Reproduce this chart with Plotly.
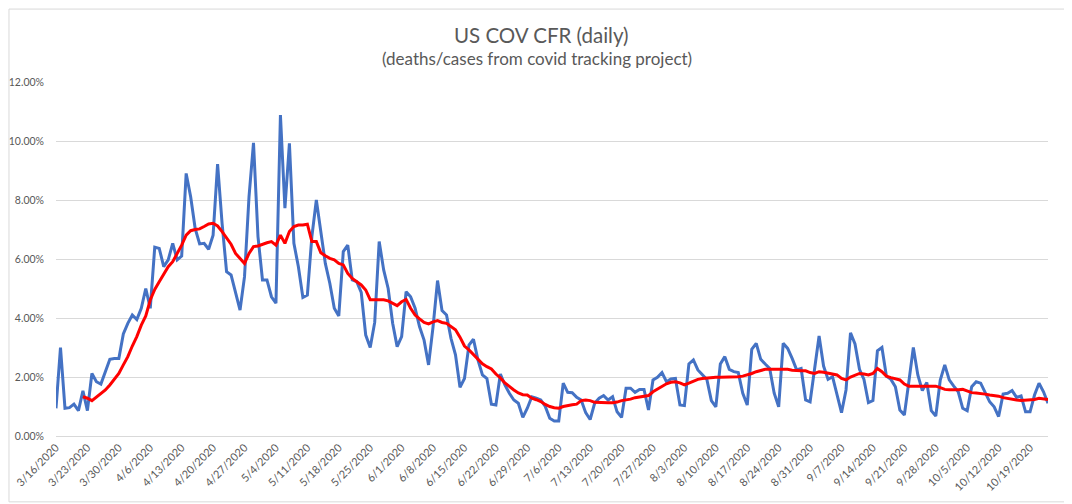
import plotly.graph_objects as go
import pandas as pd

start_date = "2020-03-16"
cfr_daily = [
    0.94, 3.0, 0.94, 0.96, 1.08, 0.86, 1.53, 0.86, 2.12, 1.84,
    1.76, 2.18, 2.6, 2.63, 2.63, 3.46, 3.82, 4.1, 3.95, 4.33,
    5.0, 4.33, 6.4, 6.36, 5.74, 5.97, 6.53, 5.97, 6.1, 8.9,
    8.11, 7.04, 6.51, 6.53, 6.33, 6.81, 9.22, 7.21, 5.57, 5.46,
    4.84, 4.27, 5.4, 8.11, 9.94, 6.76, 5.29, 5.29, 4.72, 4.5,
    10.88, 7.72, 9.92, 6.53, 5.74, 4.7, 4.78, 6.76, 8.0, 6.98,
    5.85, 5.18, 4.33, 4.07, 6.25, 6.47, 5.29, 5.23, 4.87, 3.42,
    3.0, 3.85, 6.59, 5.63, 5.0, 3.82, 3.03, 3.37, 4.89, 4.72,
    4.33, 3.7, 3.25, 2.41, 3.7, 5.27, 4.25, 4.1, 3.31, 2.75,
    1.65, 1.95, 3.08, 3.28, 2.58, 2.07, 1.95, 1.08, 1.05, 2.1,
    1.73, 1.45, 1.22, 1.11, 0.63, 0.94, 1.33, 1.28, 1.22, 1.0,
    0.6, 0.51, 0.51, 1.79, 1.48, 1.47, 1.31, 1.22, 0.79, 0.56,
    1.11, 1.28, 1.37, 1.22, 1.33, 0.82, 0.63, 1.62, 1.62, 1.48,
    1.58, 1.58, 0.88, 1.9, 1.99, 2.15, 1.84, 1.93, 1.95, 1.05,
    1.03, 2.44, 2.58, 2.24, 2.07, 1.92, 1.2, 0.99, 2.44, 2.69,
    2.26, 2.18, 2.15, 1.45, 1.05, 2.94, 3.14, 2.6, 2.44, 2.29,
    1.45, 0.99, 3.14, 2.97, 2.63, 2.24, 2.29, 1.22, 1.16, 2.24,
    3.39, 2.37, 1.92, 2.01, 1.42, 0.79, 1.56, 3.5, 3.12, 2.26,
    1.92, 1.13, 1.2, 2.89, 3.0, 2.03, 1.92, 1.67, 0.88, 0.71,
    1.84, 3.0, 2.07, 1.54, 1.81, 0.86, 0.68, 1.9, 2.41, 1.9,
    1.69, 1.5, 0.94, 0.86, 1.67, 1.84, 1.79, 1.5, 1.16, 0.99,
    0.66, 1.42, 1.45, 1.54, 1.31, 1.36, 0.82, 0.82, 1.39, 1.79,
    1.5, 1.11,
]
# 7-day moving average line (starts on the 7th day)
cfr_avg = [None] * 6 + [
    1.33, 1.28, 1.2, 1.31, 1.45, 1.56, 1.73, 1.92, 2.12, 2.41,
    2.69, 3.05, 3.37, 3.76, 4.07, 4.61, 4.97, 5.23, 5.51, 5.74,
    5.91, 6.19, 6.47, 6.81, 6.96, 7.0, 7.02, 7.1, 7.19, 7.21,
    7.12, 6.93, 6.7, 6.5, 6.19, 6.0, 5.85, 6.19, 6.42, 6.44,
    6.5, 6.55, 6.59, 6.47, 6.81, 6.53, 6.93, 7.1, 7.15, 7.15,
    7.18, 6.59, 6.59, 6.21, 6.11, 6.02, 5.97, 5.85, 5.8, 5.51,
    5.34, 5.23, 5.12, 4.95, 4.62, 4.62, 4.63, 4.62, 4.58, 4.5,
    4.42, 4.55, 4.63, 4.33, 4.1, 3.97, 3.85, 3.8, 3.87, 3.91,
    3.85, 3.82, 3.72, 3.6, 3.35, 3.05, 2.92, 2.77, 2.6, 2.45,
    2.35, 2.27, 2.1, 1.97, 1.8, 1.67, 1.56, 1.46, 1.4, 1.39,
    1.28, 1.23, 1.17, 1.07, 1.0, 0.96, 0.94, 1.0, 1.04, 1.06,
    1.08, 1.2, 1.22, 1.2, 1.14, 1.13, 1.13, 1.13, 1.13, 1.15,
    1.2, 1.22, 1.25, 1.3, 1.32, 1.35, 1.37, 1.5, 1.6, 1.7,
    1.77, 1.82, 1.84, 1.8, 1.73, 1.79, 1.85, 1.92, 1.95, 1.97,
    1.98, 1.99, 1.99, 1.99, 1.99, 2.0, 2.01, 2.03, 2.07, 2.12,
    2.18, 2.22, 2.26, 2.26, 2.26, 2.26, 2.26, 2.26, 2.23, 2.21,
    2.21, 2.21, 2.15, 2.12, 2.18, 2.16, 2.13, 2.12, 2.07, 1.95,
    1.9, 2.0, 2.06, 2.12, 2.1, 2.07, 2.12, 2.29, 2.18, 2.03,
    1.98, 1.95, 1.9, 1.76, 1.69, 1.69, 1.69, 1.67, 1.68, 1.68,
    1.69, 1.64, 1.58, 1.57, 1.56, 1.57, 1.58, 1.52, 1.47, 1.46,
    1.45, 1.42, 1.39, 1.37, 1.35, 1.3, 1.27, 1.23, 1.22, 1.2,
    1.21, 1.22, 1.24, 1.28, 1.26, 1.24,
]
title_text = "US COV CFR (daily)"
subtitle_text = "(deaths/cases from covid tracking project)"
y_ticks = [0, 2, 4, 6, 8, 10, 12]
y_tick_labels = ["0.00%", "2.00%", "4.00%", "6.00%", "8.00%", "10.00%", "12.00%"]

dates = pd.date_range(start_date, periods=len(cfr_daily), freq="D")

fig = go.Figure()
fig.add_trace(go.Scatter(x=dates, y=cfr_daily, mode="lines",
                         line=dict(color="#4472C4", width=3), name="daily",
                         hoverinfo="skip"))
fig.add_trace(go.Scatter(x=dates, y=cfr_avg, mode="lines",
                         line=dict(color="#FF0000", width=3), name="avg",
                         hoverinfo="skip"))

font_fam = "Lato, 'Open Sans', sans-serif"
# page body has an 8px margin, so the figure is sized 8px smaller
fig.update_layout(
    width=1064, height=496,
    margin=dict(l=48, r=24, t=74, b=68),
    paper_bgcolor="white", plot_bgcolor="white",
    showlegend=False,
    font=dict(family=font_fam, color="#595959", size=11),
    annotations=[
        dict(text=title_text, xref="paper", yref="paper", x=0.489, y=1.133,
             xanchor="center", yanchor="middle", showarrow=False,
             font=dict(size=20.5, color="#595959", family=font_fam)),
        dict(text=subtitle_text, xref="paper", yref="paper", x=0.485, y=1.066,
             xanchor="center", yanchor="middle", showarrow=False,
             font=dict(size=17, color="#595959", family=font_fam)),
    ],
    shapes=[dict(type="rect", xref="paper", yref="paper",
                 x0=-0.0474, x1=1.0192, y0=-0.186, y1=1.206,
                 line=dict(color="#d9d9d9", width=1))],
)
fig.update_xaxes(
    type="date",
    range=[dates[0], dates[-1]],
    tick0=dates[0], dtick=7 * 24 * 3600 * 1000,
    tickformat="%-m/%-d/%Y", tickangle=-45,
    showgrid=False, showline=True, linecolor="#d9d9d9",
    tickfont=dict(size=11, color="#595959"),
    ticks="", fixedrange=True, automargin=False,
)
fig.update_yaxes(
    range=[0, 12], tickvals=y_ticks, ticktext=y_tick_labels,
    showgrid=True, gridcolor="#d9d9d9", gridwidth=1,
    zeroline=False, showline=False, ticks="",
    ticklabelstandoff=11,
    tickfont=dict(size=10.5, color="#595959"), fixedrange=True,
    automargin=False,
)
fig.write_html("out.html")
